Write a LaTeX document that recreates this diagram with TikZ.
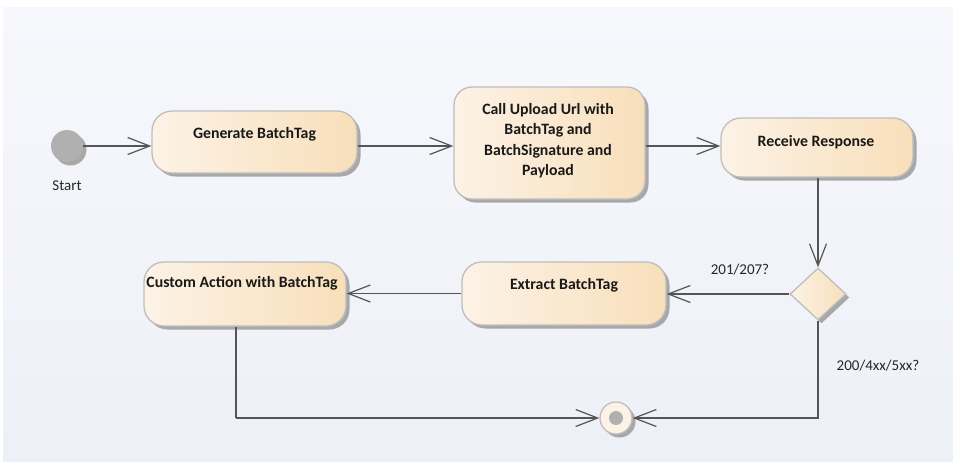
\documentclass[tikz,border=0pt]{standalone}
\usepackage{fontspec}
\setmainfont{Carlito}
\usetikzlibrary{arrows.meta,shapes.geometric,shadows}

\definecolor{panelTop}{HTML}{F7F8FC}
\definecolor{panelBot}{HTML}{EDF0F7}
\definecolor{actL}{HTML}{FCF2E6}
\definecolor{actR}{HTML}{F8DFBA}
\definecolor{actBorder}{HTML}{BEBEBE}
\definecolor{wire}{HTML}{555555}
\definecolor{shade}{HTML}{A8A8A8}
\definecolor{dotgray}{HTML}{B0B0B0}

\tikzset{
  boxshadow/.style={drop shadow={shadow xshift=3.5pt, shadow yshift=-3.5pt, fill=shade, opacity=1}},
  activity/.style={rectangle, rounded corners=20pt, draw=actBorder, line width=1.3pt,
    left color=actL, right color=actR, boxshadow, inner sep=0pt},
  acttext/.style={font=\bfseries\fontsize{15.8}{20.5}\selectfont, align=center, text=black!90, inner sep=0pt},
  note/.style={font=\fontsize{15}{18}\selectfont, text=black!85, inner sep=0pt},
  wireline/.style={draw=wire, line width=1.2pt},
  flow/.style={wireline, -{Straight Barb[length=22pt,width=17pt,line width=1.2pt]}},
}

\begin{document}
\begin{tikzpicture}[x=1pt, y=-1pt]
  % page and diagram panel
  \useasboundingbox (0,0) rectangle (953,461);
  \fill[white] (0,0) rectangle (953,461);
  \shade[top color=panelTop, bottom color=panelBot] (3,7) rectangle (953,461);

  % initial node
  \node[circle, fill=dotgray, minimum size=32pt, inner sep=0pt, boxshadow] (st) at (67,146) {};
  \node[note] (stT) at (67,186) {Start};

  % actions
  \node[activity, minimum width=205pt, minimum height=62pt] (gen) at (254.5,142) {};
  \node[acttext] (genT) at (254.5,134) {Generate BatchTag};

  \node[activity, rounded corners=18pt, minimum width=191pt, minimum height=112pt] (call) at (549.5,143) {};
  \node[acttext] (callT) at (548,140.5) {Call Upload Url with\\BatchTag and\\BatchSignature and\\Payload};

  \node[activity, minimum width=192pt, minimum height=59pt] (recv) at (817,147.5) {};
  \node[acttext] (recvT) at (816,142) {Receive Response};

  \node[activity, minimum width=204pt, minimum height=63pt] (ext) at (564,293.5) {};
  \node[acttext] (extT) at (564,285) {Extract BatchTag};

  \node[activity, minimum width=202pt, minimum height=64pt] (cust) at (245,294) {};
  \node[acttext] (custT) at (242,283) {Custom Action with BatchTag};

  % decision
  \node[diamond, draw=actBorder, line width=1.3pt, left color=actL, right color=actR,
        minimum width=56pt, minimum height=52pt, inner sep=0pt, boxshadow] (dec) at (818,294) {};

  % final node
  \node[circle, draw=actBorder, line width=1.3pt, fill=actL, minimum size=32pt, inner sep=0pt, boxshadow] (fin) at (616,418) {};
  \node[circle, fill=dotgray, minimum size=14pt, inner sep=0pt] (finDot) at (fin) {};

  % control flow
  \draw[flow] (st) -- (st -| gen.west);
  \draw[flow] (gen.east |- st) -- (call.west |- st);
  \draw[flow] (call.east |- st) -- (recv.west |- st);
  \draw[flow] (recv.south -| dec) -- (dec.north);
  \draw[flow] (dec.west) -- (ext.east |- dec.west);
  \draw[flow] (ext.west) -- (cust.east |- ext.west);

  \coordinate (leftTurn) at (236,418);
  \draw[wireline] (leftTurn |- cust.south) -- (leftTurn);
  \draw[flow] (leftTurn) -- (fin.west);
  \draw[flow] (dec.south) -- (dec.south |- fin) -- (fin.east);

  % guards
  \node[note] (g1) at (740,270) {201/207?};
  \node[note] (g2) at (878,366) {200/4xx/5xx?};
\end{tikzpicture}
\end{document}
